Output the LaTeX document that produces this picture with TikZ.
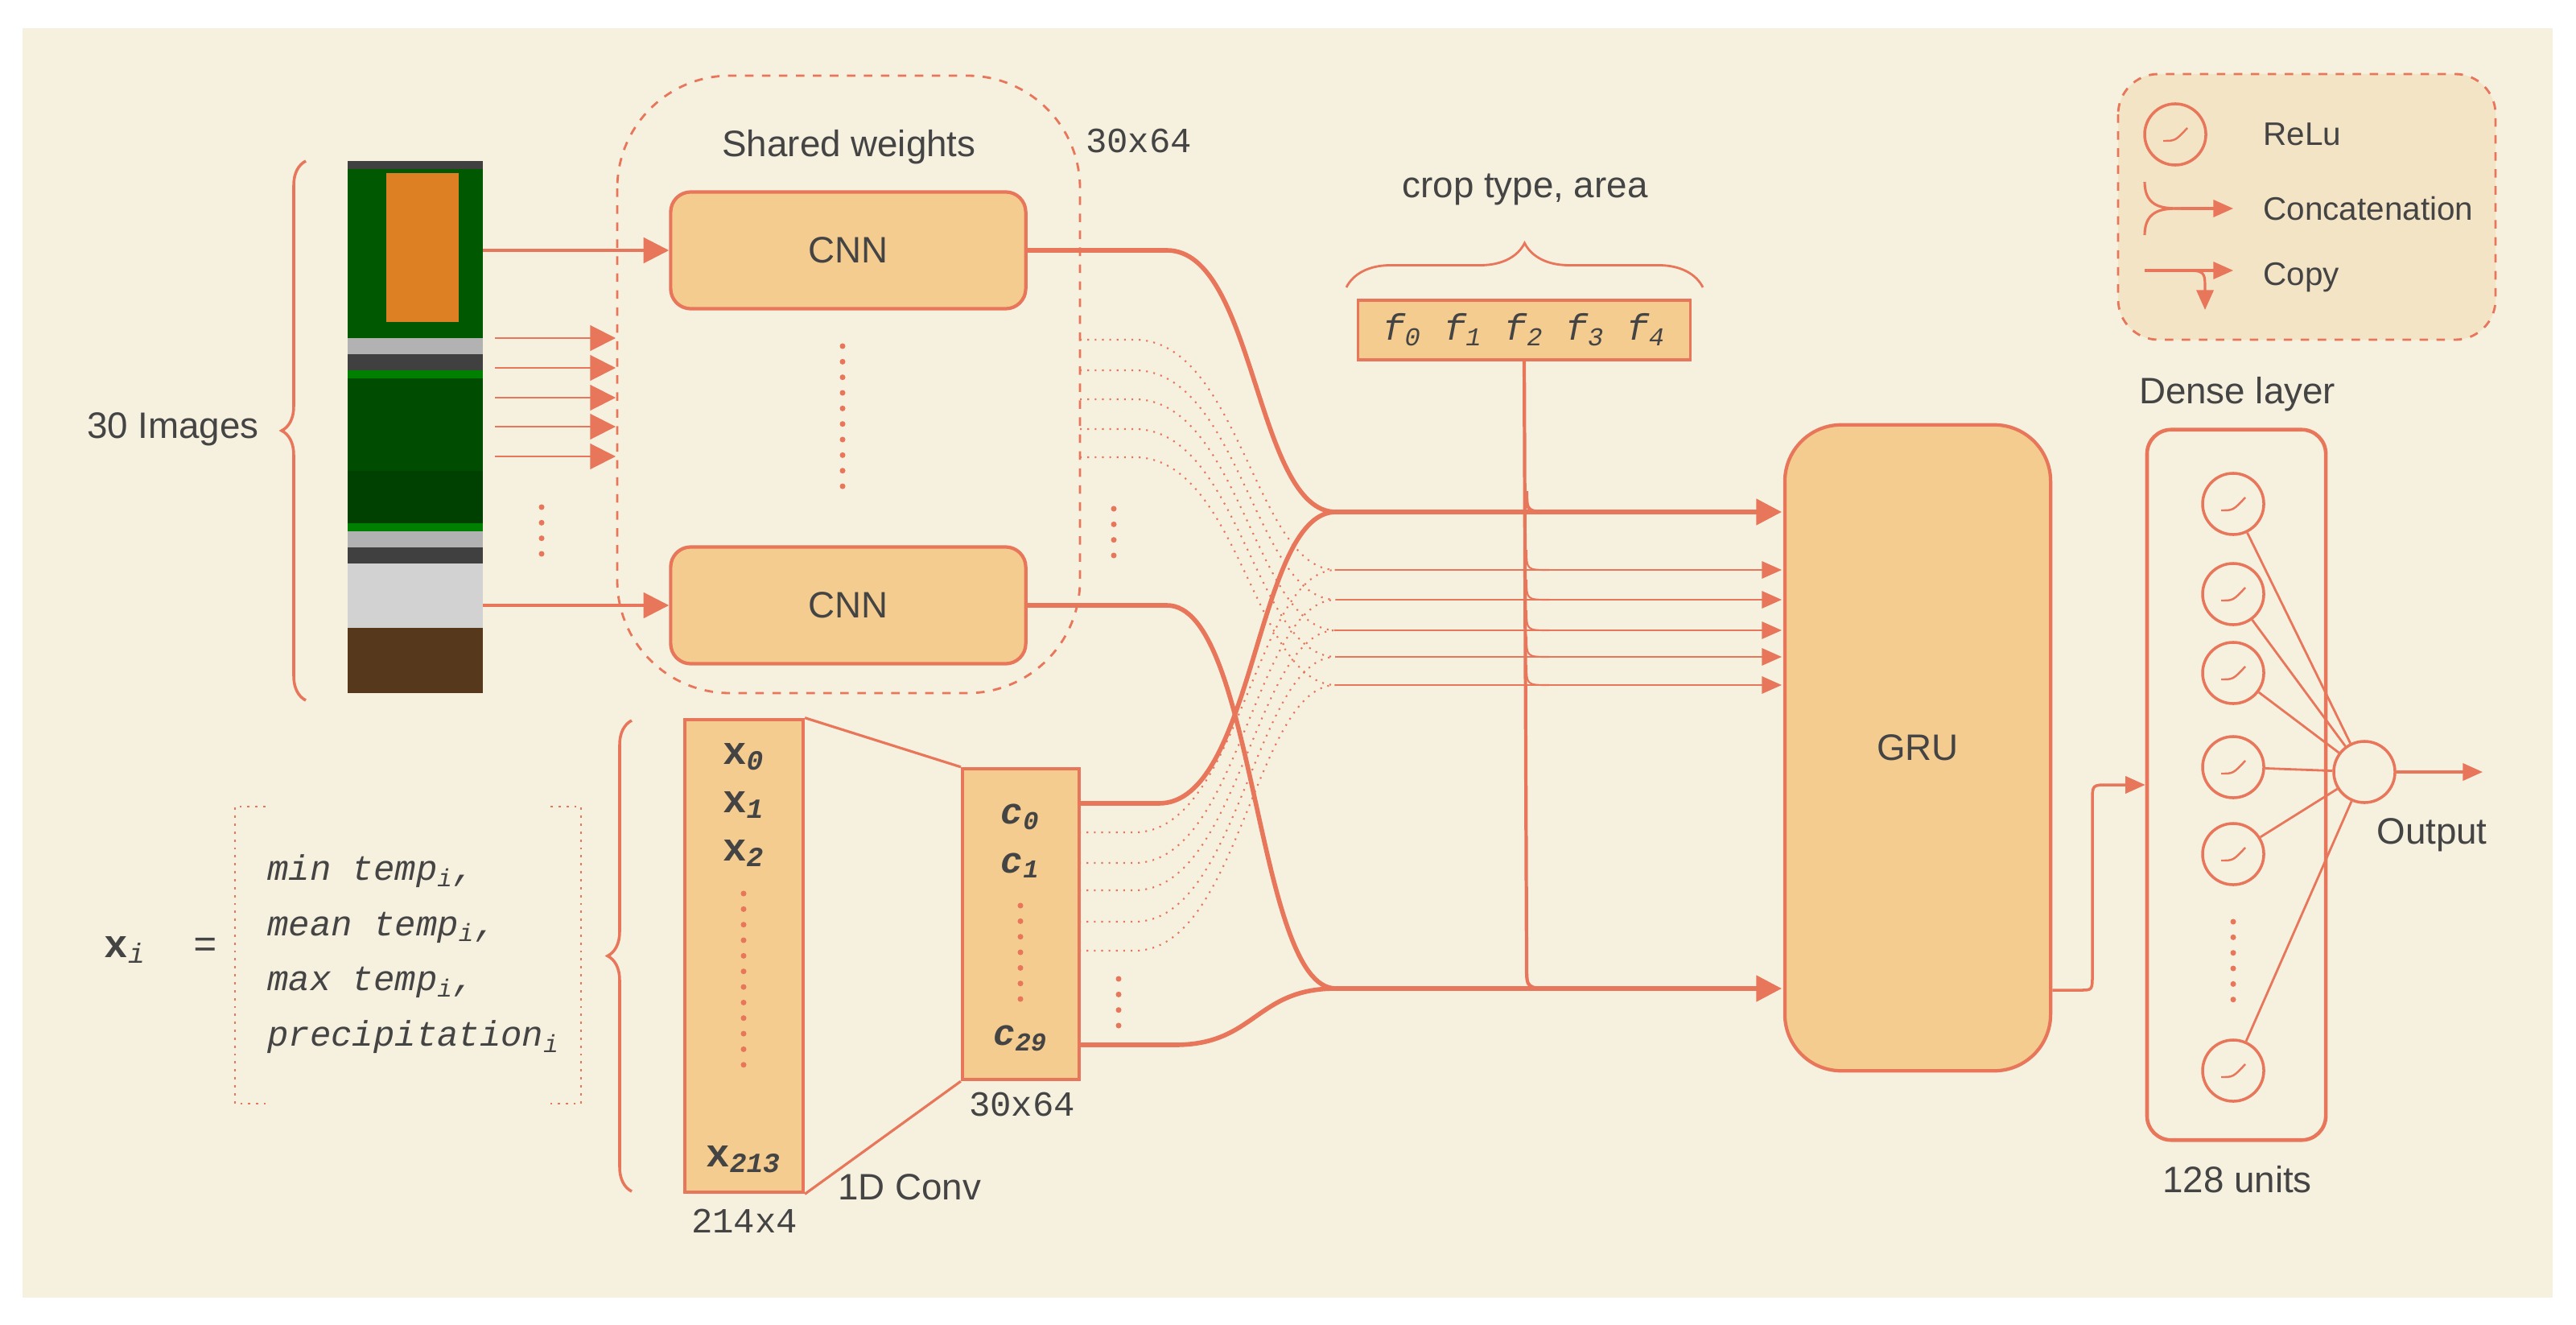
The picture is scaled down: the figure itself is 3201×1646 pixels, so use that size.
\documentclass[tikz,border=0pt]{standalone}
\usepackage{fontspec}
\setmainfont{Liberation Sans}
\setmonofont{Liberation Mono}
\usetikzlibrary{decorations.pathreplacing,arrows.meta}
\definecolor{ln}{HTML}{E8765A}
\definecolor{fl}{HTML}{F4CC8F}
\definecolor{bg}{HTML}{F6F0DF}
\definecolor{lg}{HTML}{F4E4C6}
\definecolor{tx}{HTML}{444444}
\begin{document}
\begin{tikzpicture}[x=0.01cm,y=-0.01cm,
  txt/.style={text=tx,font=\fontsize{13}{15}\selectfont},
  ltxt/.style={text=tx,font=\fontsize{11.5}{14}\selectfont},
  mono/.style={text=tx,font=\fontsize{12.5}{15}\selectfont\ttfamily},
  box/.style={draw=ln,fill=fl,line width=1.2pt},
  thick line/.style={draw=ln,line width=1.6pt},
  thin line/.style={draw=ln,line width=0.6pt},
  dot line/.style={draw=ln,line width=0.6pt,dotted},
  arr/.style={-{Triangle[length=9pt,width=9pt]}},
  sarr/.style={-{Triangle[length=7pt,width=6pt]}},
  neuron/.style={circle,draw=ln,line width=1pt,minimum size=0.76cm,inner sep=0pt},
  brc/.style={draw=ln,line width=1pt,decorate,decoration={brace,amplitude=0.3cm}},
  vdots/.style={draw=ln,line width=2pt,line cap=round,dash pattern=on 0pt off 5.5pt}]
\useasboundingbox (0,0) rectangle (3201,1646);
\fill[white] (0,0) rectangle (3201,1646);
\fill[bg] (28,35) rectangle (3172,1612);

% images
\fill[black!75] (432,200) rectangle (600,861);
\fill[green!35!black] (432,210) rectangle (600,420);
\fill[orange!45!brown] (480,215) rectangle (570,400);
\fill[gray!60] (432,420) rectangle (600,440);
\fill[green!50!black] (432,460) rectangle (600,660);
\fill[green!30!black] (432,470) rectangle (600,595);
\fill[gray!60] (432,660) rectangle (600,680);
\fill[green!25!black] (432,585) rectangle (600,650);
\fill[gray!35] (432,700) rectangle (600,780);
\fill[brown!45!black] (432,780) rectangle (600,861);
\coordinate (img1) at (600,311);
\coordinate (img2) at (600,752);

\draw[brc] (380,870) -- (380,200);
\node[txt] (n30) at (215,533) {30 Images};

% shared weights
\draw[ln,line width=0.8pt,dashed,rounded corners=1.4cm] (767,94) rectangle (1342,861);
\node[txt] (sw) at (1055,183) {Shared weights};
\node[mono] (d1) at (1415,175) {30x64};
\node[box,rounded corners=0.25cm,minimum width=4.41cm,minimum height=1.45cm,txt] (cnn1) at (1054,311) {CNN};
\node[box,rounded corners=0.25cm,minimum width=4.41cm,minimum height=1.45cm,txt] (cnn2) at (1054,752) {CNN};
\draw[thin line,line width=0.9pt,arr] (img1) -- (cnn1);
\draw[thin line,line width=0.9pt,arr] (img2) -- (cnn2);
\foreach \y in {420,457,494,530,567} {
  \coordinate (sa\y) at (615,\y); \coordinate (sb\y) at (765,\y);
  \draw[thin line,arr] (sa\y) -- (sb\y);}
\draw[vdots] (1047,430) -- (1047,612);
\draw[vdots] (673,630) -- (673,690);
\draw[vdots] (1384,632) -- (1384,695);

% weather
\node[box,minimum width=1.47cm,minimum height=5.87cm] (wx) at (924.5,1187.5) {};
\node[text=tx,font=\fontsize{14}{16}\selectfont\ttfamily\bfseries] at (924,940) {x\textsubscript{\itshape 0}};
\node[text=tx,font=\fontsize{14}{16}\selectfont\ttfamily\bfseries] at (924,1000) {x\textsubscript{\itshape 1}};
\node[text=tx,font=\fontsize{14}{16}\selectfont\ttfamily\bfseries] at (924,1060) {x\textsubscript{\itshape 2}};
\node[text=tx,font=\fontsize{14}{16}\selectfont\ttfamily\bfseries] at (924,1440) {x\textsubscript{\itshape 213}};
\draw[vdots] (924,1110) -- (924,1340);
\node[mono] at (925,1517) {214x4};
\node[box,minimum width=1.45cm,minimum height=3.86cm] (cb) at (1268.5,1148) {};
\node[mono,font=\fontsize{13}{16}\selectfont\ttfamily\itshape\bfseries] at (1268,1015) {c\textsubscript{0}};
\node[mono,font=\fontsize{13}{16}\selectfont\ttfamily\itshape\bfseries] at (1268,1075) {c\textsubscript{1}};
\node[mono,font=\fontsize{13}{16}\selectfont\ttfamily\itshape\bfseries] at (1268,1290) {c\textsubscript{29}};
\draw[vdots] (1268,1125) -- (1268,1245);
\draw[vdots] (1390,1216) -- (1390,1280);
\node[mono] at (1270,1372) {30x64};
\draw[thin line,line width=0.9pt] (wx.north east) -- (cb.north west);
\draw[thin line,line width=0.9pt] (wx.south east) -- (cb.south west);
\node[txt] at (1130,1475) {1D Conv};
\draw[brc] (785,1480) -- (785,895);
\draw[ln,line width=0.8pt,dotted] (330,1002) -- (292,1002) -- (292,1371) -- (330,1371);
\draw[ln,line width=0.8pt,dotted] (684,1002) -- (722,1002) -- (722,1371) -- (684,1371);
\node[mono,anchor=west,align=left,font=\fontsize{12.5}{19.5}\selectfont\ttfamily\itshape] at (320,1185)
 {min temp\textsubscript{i},\\mean temp\textsubscript{i},\\max temp\textsubscript{i},\\precipitation\textsubscript{i}};
\node[text=tx,font=\fontsize{14}{16}\selectfont\ttfamily] at (200,1180) {\textbf{x}\textsubscript{\itshape i}\ \ =};

% crop
\node[txt] at (1895,235) {crop type, area};
\draw[ln,line width=0.8pt,decorate,decoration={brace,amplitude=0.55cm}] (1673,357) -- (2116,357);
\node[box,line width=0.9pt,minimum width=4.12cm,minimum height=0.74cm,text=tx,font=\fontsize{13}{16}\selectfont\ttfamily\itshape] (fb) at (1894,410)
 {f\textsubscript{0} f\textsubscript{1} f\textsubscript{2} f\textsubscript{3} f\textsubscript{4}};

% GRU
\node[box,rounded corners=0.7cm,minimum width=3.3cm,minimum height=8.02cm,txt] (gru) at (2383,929) {GRU};

% merge coordinates
\coordinate (mt) at (1660,636);
\coordinate (mb) at (1660,1228);
\coordinate (gt) at (2214,636);
\coordinate (gb) at (2214,1228);
\draw[thick line] (cnn1.east) -- (1450,311) .. controls (1560,311) and (1560,636) .. (mt);
\draw[thick line] (cnn2.east) -- (1450,752) .. controls (1560,752) and (1560,1228) .. (mb);
\draw[thick line] (1341,998) -- (1440,998) .. controls (1560,998) and (1560,636) .. (mt);
\draw[thick line] (1341,1298) -- (1460,1298) .. controls (1560,1298) and (1560,1228) .. (mb);
\draw[thick line,arr] (mt) -- (gt);
\draw[thick line,arr] (mb) -- (gb);
\foreach \a/\t in {422/708,460/745,496/783,533/816,568/851} {
  \draw[dot line] (1342,\a) -- (1410,\a) .. controls (1540,\a) and (1560,\t) .. (1660,\t);}
\foreach \a/\t in {1034/708,1072/745,1106/783,1145/816,1181/851} {
  \draw[dot line] (1341,\a) -- (1410,\a) .. controls (1540,\a) and (1560,\t) .. (1660,\t);}
\foreach \t in {708,745,783,816,851} {
  \coordinate (a\t) at (1660,\t); \coordinate (b\t) at (2214,\t);
  \draw[thin line,line width=0.8pt,sarr] (a\t) -- (b\t);
  \draw[thin line] (1897,\t-25) .. controls (1897,\t) .. (1925,\t);}
\draw[thick line,line width=1.2pt] (fb.south) -- (1897,1200) .. controls (1897,1228) .. (1930,1228);
\draw[thick line,line width=1.2pt] (1897,610) .. controls (1897,636) .. (1930,636);

% dense
\node[draw=ln,line width=1.3pt,rounded corners=0.3cm,minimum width=2.22cm,minimum height=8.82cm] (dense) at (2779,975) {};
\node[txt] at (2780,490) {Dense layer};
\node[txt] at (2780,1465) {128 units};
\draw[thin line,line width=1pt,sarr] (gru.east |- 0,1230) -- (2585,1230) .. controls (2600,1230) .. (2600,1210) -- (2600,995) .. controls (2600,975) .. (2620,975) -- (dense.west |- 0,975);
\node[neuron] (o) at (2938,959) {};
\foreach \i/\y in {1/626,2/738,3/836,4/953,5/1061,6/1330} {
  \node[neuron] (n\i) at (2775,\y) {};
  \draw[ln,line width=0.7pt] (2760,\y+8) .. controls (2775,\y+8) .. (2790,\y-8);
  \draw[thin line,line width=0.8pt] (n\i) -- (o);}
\draw[vdots] (2775,1145) -- (2775,1245);
\coordinate (out) at (3085,959);
\draw[thin line,line width=1pt,sarr] (o) -- (out);
\node[txt] at (3022,1037) {Output};

% legend
\draw[ln,line width=0.8pt,dashed,rounded corners=0.5cm,fill=lg] (2632,92) rectangle (3101,422);
\node[neuron] (lr) at (2703,167) {};
\draw[ln,line width=0.7pt] (2688,175) .. controls (2703,175) .. (2718,159);
\node[ltxt,anchor=west] at (2800,167) {ReLu};
\draw[thin line,line width=0.9pt] (2665,226) .. controls (2665,259) and (2690,259) .. (2710,259);
\draw[thin line,line width=0.9pt] (2665,292) .. controls (2665,259) and (2690,259) .. (2710,259);
\draw[thin line,line width=0.9pt,sarr] (2710,259) -- (2775,259);
\node[ltxt,anchor=west] at (2800,259) {Concatenation};
\draw[thin line,line width=0.9pt,sarr] (2665,336) -- (2775,336);
\draw[thin line,line width=0.9pt,sarr] (2710,336) .. controls (2740,336) .. (2740,385);
\node[ltxt,anchor=west] at (2800,345) {Copy};
\end{tikzpicture}
\end{document}
